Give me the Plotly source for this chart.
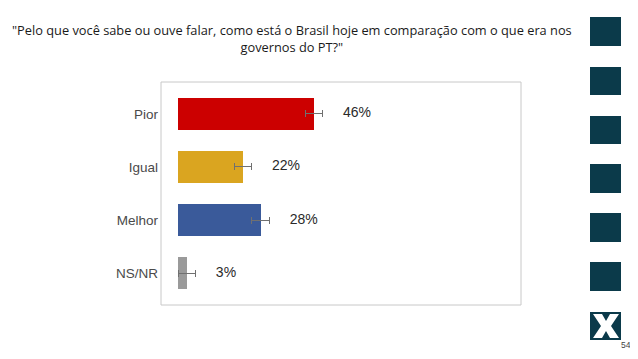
import plotly.graph_objects as go

categories = ["Pior", "Igual", "Melhor", "NS/NR"]
values = [46, 22, 28, 3]
errors = [3, 3, 3, 3]
labels = ["46%", "22%", "28%", "3%"]
colors = ["#CC0000", "#DAA520", "#3A5A9A", "#9A9A9A"]
label_offset = 9.8

# page body has an 8px margin: work in reference pixel coords and shift by -8
OFF = 8
W, H = 638 - 2 * OFF, 359 - 2 * OFF
ML, MT = 161 - OFF, 82 - OFF
PR, PB = 521 - OFF, 305 - OFF
MR, MB = W - PR, H - PB
PW, PH = PR - ML, PB - MT

def px(x):
    return (x - OFF - ML) / PW

def py(y):
    return (PB - (y - OFF)) / PH

fig = go.Figure()
fig.add_trace(go.Bar(
    y=categories, x=values, orientation="h",
    marker=dict(color=colors, line=dict(width=0)),
    width=0.59,
    error_x=dict(type="data", array=errors, color="#707070", thickness=1, width=3.5),
    hoverinfo="skip",
))
fig.add_trace(go.Scatter(
    y=categories, x=[v + label_offset for v in values], mode="text",
    text=labels, textposition="middle right",
    textfont=dict(family="Liberation Sans, Arial", size=14, color="#2a2a2a"),
    hoverinfo="skip",
))

shapes = []
for top, bot in [(17, 46), (67, 95), (116, 144), (164, 193), (213, 242), (262, 291), (312, 340)]:
    shapes.append(dict(type="rect", xref="paper", yref="paper",
                       x0=px(590), x1=px(621), y0=py(bot), y1=py(top),
                       fillcolor="#0B3A4A", line=dict(width=0), layer="above"))
pts = [(593, 314), (602, 314), (606, 321), (610, 314), (619, 314), (611, 326),
       (619, 338), (610, 338), (606, 331), (602, 338), (593, 338), (601, 326)]
path = "M " + " L ".join(f"{px(a)},{py(b)}" for a, b in pts) + " Z"
shapes.append(dict(type="path", xref="paper", yref="paper", path=path,
                   fillcolor="white", line=dict(width=0), layer="above"))

fig.update_layout(
    width=W, height=H,
    margin=dict(l=ML, r=MR, t=MT, b=MB),
    paper_bgcolor="white", plot_bgcolor="white",
    showlegend=False,
    bargap=0,
    xaxis=dict(range=[-5.75, 116], visible=False, fixedrange=True),
    yaxis=dict(categoryorder="array", categoryarray=categories, range=[3.6, -0.6],
               showgrid=False, zeroline=False, ticks="", ticklabelstandoff=2,
               tickfont=dict(family="Liberation Sans, Arial", size=13.5, color="#4a4a4a"),
               fixedrange=True),
    shapes=shapes + [dict(type="rect", xref="paper", yref="paper", x0=0, x1=1, y0=0, y1=1,
                          line=dict(color="#c8c8c8", width=1), layer="above")],
    annotations=[
        dict(text="\"Pelo que você sabe ou ouve falar, como está o Brasil hoje em comparação com o que era nos<br>governos do PT?\"",
             xref="paper", yref="paper", x=px(292), y=py(19), xanchor="center", yanchor="top",
             showarrow=False, align="center",
             font=dict(family="Liberation Sans Narrow, Open Sans", size=12.8, color="#1a1a1a")),
        dict(text="54", xref="paper", yref="paper", x=px(626), y=py(345), xanchor="center",
             yanchor="middle", showarrow=False,
             font=dict(family="Liberation Sans, Arial", size=8.5, color="#444444")),
    ],
)

fig.write_html("out.html")
